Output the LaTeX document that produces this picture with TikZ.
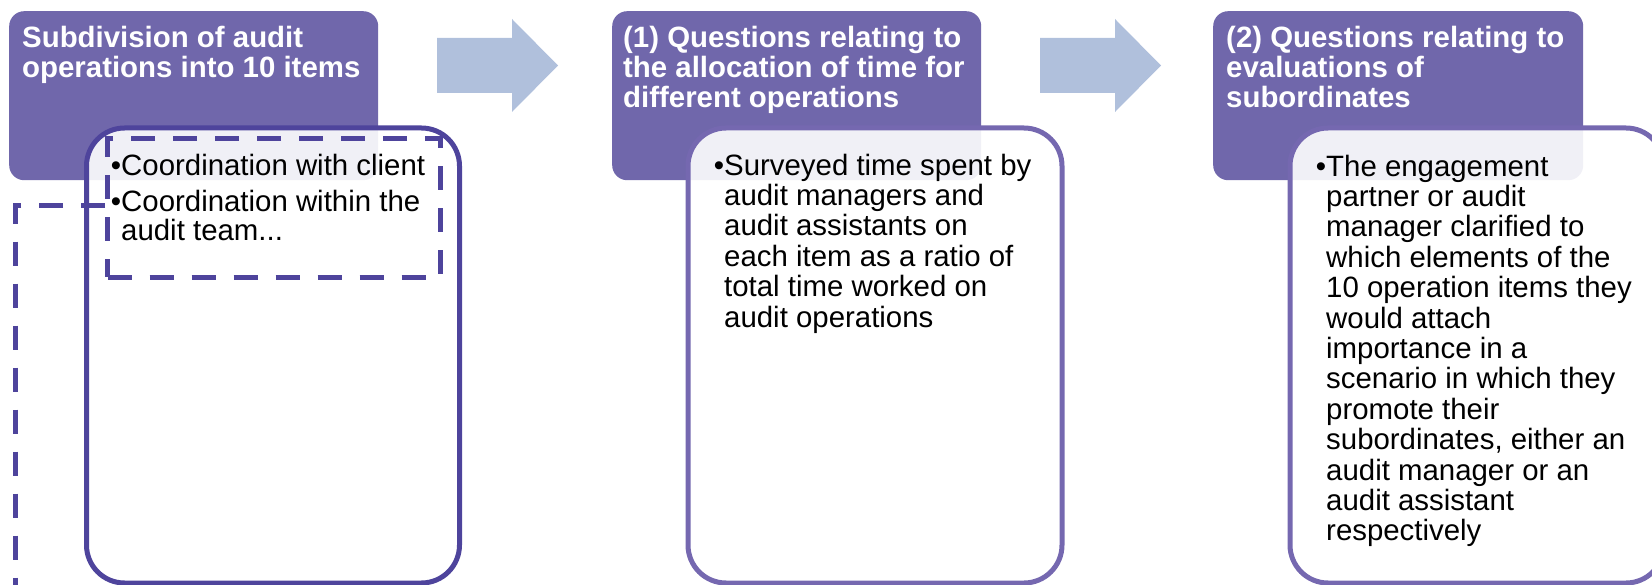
\documentclass[tikz,border=0pt]{standalone}
\usepackage{fontspec}
\setmainfont{Liberation Sans}
\definecolor{hdr}{HTML}{7067AB}
\definecolor{lineA}{HTML}{4E449C}
\definecolor{lineB}{HTML}{7568B0}
\definecolor{flow}{HTML}{B0C0DC}
\newcommand{\bul}{\makebox[0pt][r]{•}}

\begin{document}
\begin{tikzpicture}[x=1pt,y=-1pt,
  header/.style={fill=hdr, rounded corners=15pt, inner sep=0pt, anchor=north west,
                 minimum width=369pt, minimum height=169pt},
  panel/.style={draw=#1, line width=5pt, fill=white, fill opacity=0.9,
                rounded corners=38pt, inner sep=0pt, anchor=north west,
                minimum width=374pt, minimum height=455pt},
  htext/.style={anchor=base west, align=left, inner sep=0pt, text=white,
                font=\fontsize{29.4}{29.8}\selectfont\bfseries},
  btext/.style={anchor=base west, align=left, inner sep=0pt, text=black,
                font=\fontsize{29.4}{30.4}\selectfont},
  flowarrow/.style={fill=flow},
  dashline/.style={draw=lineA, line width=5pt, dash pattern=on 24pt off 18pt}
]
\useasboundingbox (0,0) rectangle (1652,585);

% coloured title blocks
\node[header] (h1) at (9,11) {};
\node[header] (h2) at (612,11) {};
\node[header, minimum width=370pt] (h3) at (1213,11) {};

% block arrows between the stages
\fill[flowarrow] (437,38) -- (512,38) -- (512,19) -- (558,65.5) -- (512,112) -- (512,93) -- (437,93) -- cycle;
\fill[flowarrow, xshift=603pt] (437,38) -- (512,38) -- (512,19) -- (558,65.5) -- (512,112) -- (512,93) -- (437,93) -- cycle;

% content panels laid over the title blocks
\node[panel=lineA, minimum width=373pt] (p1) at (84,125.5) {};
\node[panel=lineB] (p2) at (685.5,125.5) {};
\node[panel=lineB] (p3) at (1287.5,125.5) {};

% dashed frame around the example items and its leader line
\node[draw=lineA, line width=5pt, dash pattern=on 24pt off 18pt, inner sep=0pt,
      anchor=north west, minimum width=332.5pt, minimum height=138.5pt] (items) at (105,136.5) {};
\coordinate (tail) at (15,600);
\draw[dashline] ([yshift=2.7pt]items.west) -| (tail);

% titles (anchored at the baseline of their last line)
\node[htext] (t1) at (22,77.8) {Subdivision of audit\\operations into 10 items};
\node[htext] (t2) at (623,107.6) {(1) Questions relating to\\the allocation of time for\\different operations};
\node[htext] (t3) at (1226,107.6) {(2) Questions relating to\\evaluations of\\subordinates};

% panel contents (anchored at the baseline of their last line)
\node[btext] (b1) at (121,241) {\bul Coordination with client\\[5.6pt]\bul Coordination within the\\[-1.4pt]audit team...};
\node[btext] (b2) at (724,327) {\bul Surveyed time spent by\\audit managers and\\audit assistants on\\each item as a ratio of\\total time worked on\\audit operations};
\node[btext] (b3) at (1326,540.8) {\bul The engagement\\partner or audit\\manager clarified to\\which elements of the\\10 operation items they\\would attach\\importance in a\\scenario in which they\\promote their\\subordinates, either an\\audit manager or an\\audit assistant\\respectively};
\end{tikzpicture}
\end{document}
